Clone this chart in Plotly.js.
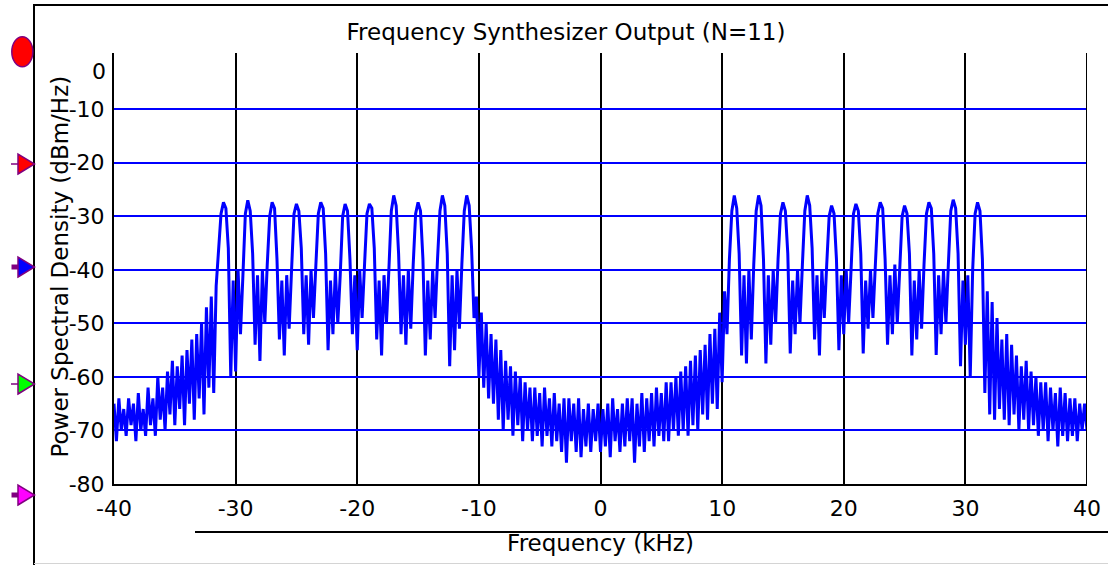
<!DOCTYPE html>
<html>
<head>
<meta charset="utf-8">
<script src="https://cdn.plot.ly/plotly-3.0.1.min.js"></script>
<style>
  html, body { margin: 0; padding: 0; background: #fff; }
  #chart { width: 1108px; height: 565px; }
</style>
</head>
<body>
<div id="chart"></div>
<script>
// ---------------- DATA ----------------
const freqStep = 0.2; // kHz between samples

// Left outer skirt: -40.0 .. -31.8 kHz
const leftSkirtStart = -40.0;
const psdLeftSkirt = [
  -65, -72, -64, -70, -66, -71, -64, -69, -65, -72,
  -63, -70, -66, -71, -62, -69, -64, -71, -60, -68,
  -62, -70, -59, -67, -57, -69, -58, -66, -56, -69,
  -55, -65, -53, -68, -52, -64, -50, -67, -47, -62,
  -45, -63
];

// Left band of 11 lobes: -31.6 .. -10.4 kHz
const leftBandStart = -31.6;
const psdLeftBand = [
  -43, -36, -29.5, -27.4, -28.5, -36, -60, -42, -59, -40,
  -52, -41, -29.5, -27.0, -29, -37, -54, -41, -57, -40,
  -50, -39, -30, -27.4, -28.5, -38, -53, -42, -56, -41,
  -51, -40, -29.5, -27.7, -29, -36, -52, -41, -54, -40,
  -49, -39, -29.5, -27.4, -28.5, -37, -55, -42, -52, -40,
  -50, -41, -30, -27.7, -29, -38, -52, -41, -55, -40,
  -49, -39, -29.5, -27.7, -28.5, -36, -53, -42, -56, -41,
  -50, -40, -29, -26.1, -28, -37, -52, -41, -54, -40,
  -51, -39, -29.5, -27.4, -29, -38, -56, -42, -53, -40,
  -49, -38, -29, -26.1, -28, -37, -58, -41, -55, -40,
  -51, -39, -29, -26.1, -28, -36, -49
];

// Centre valley: -10.2 .. 10.2 kHz
const centerStart = -10.2;
const psdCenter = [
  -45, -60, -48, -62, -50, -64, -52, -65, -53, -68,
  -55, -70, -57, -68, -58, -71, -59, -69, -60, -72,
  -61, -70, -62, -72, -62, -71, -63, -73, -62, -71,
  -64, -73, -63, -72, -65, -74, -64, -76, -64, -72,
  -65, -74, -64, -75, -66, -73, -65, -74, -66, -72,
  -65, -74, -66, -73, -65, -75, -64, -72, -66, -74,
  -65, -73, -64, -72, -64, -76, -65, -73, -63, -74,
  -64, -72, -63, -73, -62, -71, -63, -72, -61, -72,
  -61, -70, -60, -71, -59, -70, -58, -71, -57, -69,
  -56, -70, -55, -67, -54, -68, -52, -65, -51, -66,
  -48, -61, -44
];

// Right band of 11 lobes: 10.4 .. 31.6 kHz
const rightBandStart = 10.4;
const psdRightBand = [
  -52, -38, -29, -26.1, -28.5, -37, -56, -41, -57.5, -40,
  -53, -39, -29, -26.1, -28, -38, -57.5, -41, -54, -40,
  -50, -38, -29.5, -27.4, -29, -37, -55.6, -42, -52, -40,
  -50, -39, -29, -26.1, -28, -36, -53, -41, -56, -40,
  -49, -39, -30, -28.0, -29.5, -38, -55, -41, -52, -40,
  -50, -40, -29.5, -27.7, -29, -37, -55.6, -42, -51, -40,
  -49, -39, -29.5, -27.4, -28.5, -38, -54, -41, -52, -39,
  -50, -40, -30, -28.0, -29.5, -37, -56, -42, -53, -40,
  -51, -39, -29.5, -27.4, -28.5, -37, -55.9, -41, -52, -40,
  -50, -39, -29, -26.9, -28.5, -37, -58, -42, -54, -41,
  -60, -40, -29.5, -27.4, -29, -38, -63
];

// Right outer skirt: 31.8 .. 40.0 kHz
const rightSkirtStart = 31.8;
const psdRightSkirt = [
  -44, -67, -46, -68, -49, -66, -53, -68, -52, -69,
  -54, -67, -56, -70, -58, -68, -57, -70, -59, -69,
  -60, -71, -61, -70, -61, -72, -62, -70, -63, -73,
  -62, -71, -63, -72, -64, -71, -64, -72, -65, -70,
  -65, -70
];

const xTickVals = [-40, -30, -20, -10, 0, 10, 20, 30, 40];
const xTickText = ['-40', '-30', '-20', '-10', '0', '10', '20', '30', '40'];
const yTickVals = [-80, -70, -60, -50, -40, -30, -20, -10];
const yTickText = ['-80', '-70', '-60', '-50', '-40', '-30', '-20', '-10'];
const yTopLabel = '0';

const chartTitle = 'Frequency Synthesizer Output (N=11)';
const xTitle = 'Frequency (kHz)';
const yTitle = 'Power Spectral Density (dBm/Hz)';

// ---------------- BUILD ----------------
const segments = [
  [leftSkirtStart, psdLeftSkirt],
  [leftBandStart, psdLeftBand],
  [centerStart, psdCenter],
  [rightBandStart, psdRightBand],
  [rightSkirtStart, psdRightSkirt]
];
const freq = [];
const psd = [];
segments.forEach(([start, vals]) => {
  vals.forEach((v, j) => {
    freq.push(Math.round((start + j * freqStep) * 1000) / 1000);
    psd.push(v);
  });
});

// plot area in pixels (for decoration placement only)
const W = 1108, H = 565;
const M = { l: 114, r: 21, t: 53, b: 81 };
const PW = W - M.l - M.r, PH = H - M.t - M.b;
const px = x => (x - M.l) / PW;
const py = y => (H - M.b - y) / PH;

const FONT = 'DejaVu Sans, Arial, sans-serif';
const PURPLE = '#800080';

const shapes = [];
// frame
shapes.push({ type: 'line', xref: 'paper', yref: 'paper', x0: px(34), x1: px(1108), y0: py(5), y1: py(5), line: { color: '#000', width: 2 } });
shapes.push({ type: 'line', xref: 'paper', yref: 'paper', x0: px(34), x1: px(34), y0: py(4), y1: py(565), line: { color: '#000', width: 2 } });
shapes.push({ type: 'line', xref: 'paper', yref: 'paper', x0: px(34), x1: px(1108), y0: py(563.5), y1: py(563.5), line: { color: '#d4d4d4', width: 1 } });
// underline above x title
shapes.push({ type: 'line', xref: 'paper', yref: 'paper', x0: px(195), x1: px(1108), y0: py(532), y1: py(532), line: { color: '#000', width: 2 } });
// right-edge vertical line at 40 kHz
shapes.push({ type: 'line', xref: 'x', yref: 'paper', x0: 40, x1: 40, y0: 0, y1: 1, line: { color: '#000', width: 2 } });

// left-side markers
shapes.push({ type: 'circle', xref: 'paper', yref: 'paper', xsizemode: 'pixel', ysizemode: 'pixel',
  xanchor: px(22.3), yanchor: py(51.7), x0: -10.5, x1: 10.5, y0: -15, y1: 15,
  fillcolor: '#ff0000', line: { color: PURPLE, width: 1.5 } });
const tri = [
  { y: 164, color: '#ff0000', thick: false },
  { y: 267, color: '#0000ff', thick: true },
  { y: 384, color: '#00ff00', thick: false },
  { y: 495, color: '#ff00ff', thick: true }
];
tri.forEach(t => {
  if (t.thick) {
    shapes.push({ type: 'rect', xref: 'paper', yref: 'paper', xsizemode: 'pixel', ysizemode: 'pixel',
      xanchor: px(15), yanchor: py(t.y), x0: -3.5, x1: 3.5, y0: -2.5, y1: 2.5,
      fillcolor: PURPLE, line: { width: 0 } });
  } else {
    shapes.push({ type: 'path', xref: 'paper', yref: 'paper', xsizemode: 'pixel', ysizemode: 'pixel',
      xanchor: px(15), yanchor: py(t.y), path: 'M -4 0 L 4 0',
      line: { color: PURPLE, width: 1.5 } });
  }
  shapes.push({ type: 'path', xref: 'paper', yref: 'paper', xsizemode: 'pixel', ysizemode: 'pixel',
    xanchor: px(26), yanchor: py(t.y), path: 'M -8 -10 L 8.5 0 L -8 10 Z',
    fillcolor: t.color, line: { color: PURPLE, width: 1.5 } });
});

const trace = {
  type: 'scatter', mode: 'lines', x: freq, y: psd,
  line: { color: '#0000ff', width: 3 },
  hoverinfo: 'x+y'
};

const layout = {
  width: W, height: H,
  margin: { l: M.l, r: M.r, t: M.t, b: M.b, pad: 0 },
  paper_bgcolor: '#ffffff', plot_bgcolor: '#ffffff',
  font: { family: FONT, size: 22, color: '#000' },
  showlegend: false,
  title: { text: chartTitle, x: 566 / W, xanchor: 'center', y: 1 - 31.7 / H, yanchor: 'middle', font: { family: FONT, size: 23, color: '#000' } },
  xaxis: {
    range: [-40, 40], tickmode: 'array', tickvals: xTickVals, ticktext: xTickText,
    showgrid: true, gridcolor: '#000000', gridwidth: 2, zeroline: false,
    showline: true, linecolor: '#000', linewidth: 2, ticks: '',
    ticklabelstandoff: 4,
    tickfont: { family: FONT, size: 22, color: '#000' },
    title: { text: xTitle, font: { family: FONT, size: 23, color: '#000' }, standoff: 14 }
  },
  yaxis: {
    range: [-80, 0.5], tickmode: 'array', tickvals: yTickVals, ticktext: yTickText,
    showgrid: true, gridcolor: '#0000ff', gridwidth: 2, zeroline: false,
    showline: true, linecolor: '#000', linewidth: 2, ticks: '',
    ticklabelstandoff: 3,
    tickfont: { family: FONT, size: 22, color: '#000' }
  },
  shapes: shapes,
  annotations: [
    { text: yTopLabel, xref: 'paper', yref: 'paper', x: px(108), y: py(71.7), xanchor: 'right', yanchor: 'middle',
      showarrow: false, font: { family: FONT, size: 22, color: '#000' } },
    { text: yTitle, textangle: -90, xref: 'paper', yref: 'paper', x: px(59.5), y: py(267), xanchor: 'center', yanchor: 'middle',
      showarrow: false, font: { family: FONT, size: 23, color: '#000' } }
  ]
};

Plotly.newPlot('chart', [trace], layout, { staticPlot: true, displayModeBar: false });
</script>
</body>
</html>
